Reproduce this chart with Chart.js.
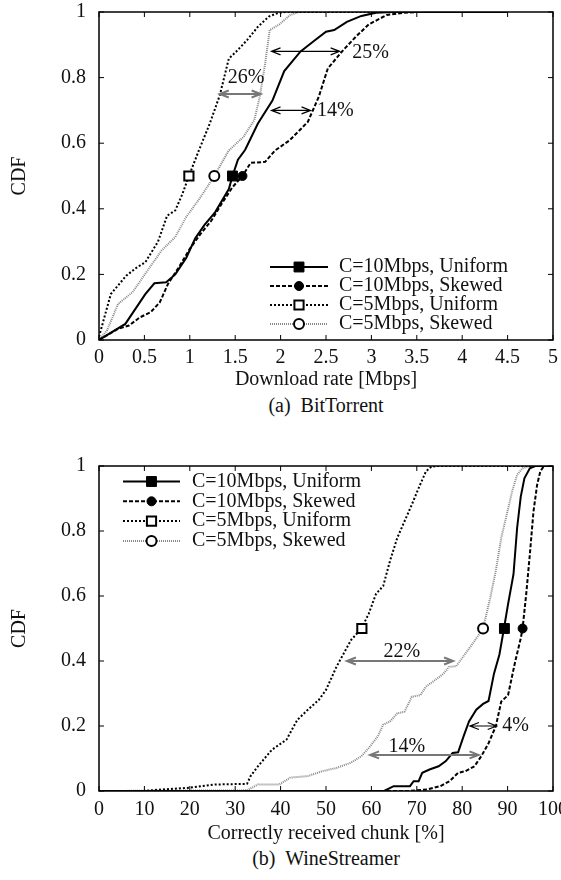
<!DOCTYPE html>
<html>
<head>
<meta charset="utf-8">
<script src="https://cdn.jsdelivr.net/npm/chart.js@4.4.0/dist/chart.umd.min.js"></script>
<style>
  body { margin: 0; background: #fff; width: 561px; height: 880px; position: relative; overflow: hidden; font-family: "Liberation Serif", serif; }
  .box { position: absolute; left: 0; width: 561px; }
  .caption { position: absolute; left: 99px; width: 454px; text-align: center; font-size: 20px; line-height: 24px; color: #111; }
</style>
</head>
<body>
<div class="box" style="top:0"><canvas id="btChart" width="561" height="392"></canvas></div>
<div class="caption" style="top:393px">(a)&nbsp; BitTorrent</div>
<div class="box" style="top:420px"><canvas id="wsChart" width="561" height="426"></canvas></div>
<div class="caption" style="top:846px">(b)&nbsp; WineStreamer</div>

<script>
// series names (same for both plots)
const seriesNames = ["C=10Mbps, Uniform", "C=10Mbps, Skewed", "C=5Mbps, Uniform", "C=5Mbps, Skewed"];

// (a) BitTorrent - download rate [Mbps] vs CDF
const btU10 = [[0,0],[0.29,0.049],[0.51,0.14],[0.61,0.173],[0.74,0.176],[0.84,0.2],[0.96,0.25],[1.06,0.31],[1.16,0.35],[1.28,0.39],[1.43,0.46],[1.47,0.5],[1.53,0.55],[1.61,0.58],[1.75,0.66],[1.91,0.73],[2.04,0.82],[2.22,0.88],[2.36,0.91],[2.5,0.94],[2.59,0.945],[2.73,0.97],[2.89,0.988],[3.05,0.998],[3.24,1],[4.5,1]];
const btS10 = [[0,0],[0.21,0.034],[0.33,0.044],[0.45,0.069],[0.57,0.085],[0.67,0.115],[0.76,0.171],[0.88,0.222],[1.0,0.278],[1.12,0.324],[1.24,0.365],[1.35,0.415],[1.47,0.466],[1.58,0.5],[1.67,0.54],[1.83,0.543],[1.94,0.578],[2.1,0.609],[2.3,0.665],[2.42,0.741],[2.52,0.828],[2.69,0.884],[2.83,0.925],[2.97,0.962],[3.17,0.991],[3.36,0.998],[3.52,1],[4.5,1]];
const btU5 = [[0,0.01],[0.13,0.14],[0.3,0.196],[0.41,0.22],[0.51,0.237],[0.65,0.30],[0.75,0.379],[0.84,0.395],[0.92,0.446],[0.99,0.5],[1.1,0.578],[1.22,0.66],[1.33,0.746],[1.43,0.858],[1.51,0.879],[1.63,0.914],[1.75,0.955],[1.87,0.986],[1.98,0.998],[2.06,1],[4.5,1]];
const btS5 = [[0,0],[0.09,0.03],[0.21,0.11],[0.37,0.146],[0.53,0.21],[0.69,0.273],[0.84,0.314],[0.96,0.375],[1.12,0.436],[1.27,0.5],[1.43,0.578],[1.59,0.619],[1.71,0.67],[1.77,0.741],[1.83,0.843],[1.88,0.945],[1.99,0.963],[2.1,0.99],[2.2,1],[4.5,1]];
const btMedians = [1.47, 1.58, 0.99, 1.27];
const btXTicks = ["0","0.5","1","1.5","2","2.5","3","3.5","4","4.5","5"];
const btArrows = [[1.33,1.78,0.75],[1.90,2.33,0.70],[1.90,2.65,0.88]];
const btArrowText = ["26%","14%","25%"];
const btTextAt = [[1.62,0.80],[2.40,0.70],[2.79,0.875]];

// (b) WineStreamer - correctly received chunk [%] vs CDF
const wsU10 = [[0,0],[62.8,0],[64.9,0.015],[68.5,0.015],[69.3,0.03],[70.4,0.03],[71.2,0.056],[72.8,0.066],[74.8,0.076],[76.4,0.092],[77.9,0.117],[79.1,0.119],[80.3,0.168],[81.5,0.214],[83.1,0.25],[84.6,0.268],[85.8,0.277],[87.0,0.361],[88.2,0.42],[89.2,0.5],[90.1,0.575],[91.3,0.667],[92.1,0.81],[92.9,0.906],[93.7,0.962],[94.9,0.993],[96.1,1],[100,1]];
const wsS10 = [[0,0],[68,0],[72.4,0.005],[75.2,0.015],[77.2,0.03],[79.1,0.056],[80.7,0.061],[82.7,0.076],[84.2,0.107],[85.8,0.147],[87.4,0.199],[88.6,0.275],[90.1,0.295],[91.7,0.4],[92.9,0.47],[93.3,0.5],[94.1,0.606],[94.9,0.728],[95.7,0.86],[96.5,0.942],[97.2,0.983],[98,1],[100,1]];
const wsU5 = [[0,0],[10,0],[12.1,0.003],[20,0.01],[25.5,0.02],[32.6,0.022],[33.4,0.046],[35,0.076],[38.1,0.127],[41.3,0.158],[43.7,0.219],[46,0.25],[48.4,0.28],[50,0.311],[52.3,0.382],[53.9,0.423],[55.5,0.464],[57.8,0.5],[59.4,0.545],[61,0.606],[62.6,0.631],[64.1,0.708],[65.7,0.779],[67.3,0.83],[68.9,0.881],[70.4,0.932],[72,0.983],[73.2,0.998],[74.4,1],[100,1]];
const wsS5 = [[0,0],[32.6,0.002],[35,0.02],[39.7,0.02],[42.1,0.041],[46,0.046],[49.2,0.061],[52.3,0.071],[55.5,0.087],[57.8,0.107],[59.4,0.132],[61.4,0.168],[62.6,0.204],[64.1,0.214],[65.7,0.239],[67.3,0.244],[68.9,0.29],[70.8,0.295],[72,0.321],[74,0.341],[75.9,0.361],[77.1,0.382],[78.7,0.384],[80.7,0.423],[82.3,0.453],[84.6,0.5],[86.2,0.596],[87.4,0.677],[88.6,0.779],[89.8,0.85],[91,0.922],[92.1,0.973],[93.3,0.993],[94.9,1],[100,1]];
const wsMedians = [89.3, 93.3, 57.9, 84.6];
const wsXTicks = ["0","10","20","30","40","50","60","70","80","90","100"];
const wsArrows = [[54.6,78.0,0.40],[59.7,83.6,0.111],[81.7,87.6,0.2]];
const wsArrowText = ["22%","14%","4%"];
const wsTextAt = [[66.7,0.43],[67.8,0.135],[88.8,0.2]];

const yTicks = ["0","0.2","0.4","0.6","0.8","1"];

// styles
const lineStyles = [
  { color: "#000", width: 2, dash: [] },
  { color: "#000", width: 2, dash: [4, 2] },
  { color: "#000", width: 2, dash: [2, 2] },
  { color: "#888", width: 2, dash: [1, 1] }
];
const markStyles = [
  { style: "rect", r: 7, fill: "#000", bw: 1 },
  { style: "circle", r: 4.5, fill: "#000", bw: 1 },
  { style: "rect", r: 6.5, fill: "#fff", bw: 2 },
  { style: "circle", r: 5, fill: "#fff", bw: 2 }
];

Chart.defaults.font.family = "'Liberation Serif', 'DejaVu Serif', serif";
Chart.defaults.font.size = 20;
Chart.defaults.color = "#111";
Chart.defaults.animation = false;

function drawArrow(ctx, x1, x2, y, color) {
  ctx.strokeStyle = color;
  ctx.lineWidth = color === "#000" ? 1.2 : 2;
  ctx.setLineDash([]);
  ctx.beginPath();
  ctx.moveTo(x1, y); ctx.lineTo(x2, y);
  ctx.moveTo(x1 + 9, y - 3.5); ctx.lineTo(x1, y); ctx.lineTo(x1 + 9, y + 3.5);
  ctx.moveTo(x2 - 9, y - 3.5); ctx.lineTo(x2, y); ctx.lineTo(x2 - 9, y + 3.5);
  ctx.stroke();
}

// gnuplot-like frame with inward ticks on all sides
const framePlugin = {
  id: "frame",
  afterDatasetsDraw(chart) {
    const { ctx, chartArea: a, scales: { x, y } } = chart;
    ctx.save();
    ctx.setLineDash([]);
    ctx.strokeStyle = "#000";
    ctx.lineWidth = 1;
    ctx.beginPath();
    x.ticks.forEach(t => {
      const px = x.getPixelForValue(t.value);
      ctx.moveTo(px, a.bottom); ctx.lineTo(px, a.bottom - 5);
      ctx.moveTo(px, a.top); ctx.lineTo(px, a.top + 5);
    });
    y.ticks.forEach(t => {
      const py = y.getPixelForValue(t.value);
      ctx.moveTo(a.left, py); ctx.lineTo(a.left + 5, py);
      ctx.moveTo(a.right, py); ctx.lineTo(a.right - 5, py);
    });
    ctx.stroke();
    ctx.lineWidth = 1.5;
    ctx.strokeRect(a.left, a.top, a.right - a.left, a.bottom - a.top);
    ctx.restore();
  },
  afterDraw(chart, args, opts) {
    const { ctx, scales: { x, y } } = chart;
    ctx.save();
    // arrows and their labels
    opts.arrows.forEach((ar, i) => {
      drawArrow(ctx, x.getPixelForValue(ar[0]), x.getPixelForValue(ar[1]), y.getPixelForValue(ar[2]), opts.arrowColors[i]);
    });
    ctx.font = "20px 'Liberation Serif', serif";
    ctx.fillStyle = "#111";
    ctx.textBaseline = "middle";
    opts.texts.forEach((t, i) => {
      ctx.textAlign = opts.textAlign[i];
      ctx.fillText(t, x.getPixelForValue(opts.textAt[i][0]), y.getPixelForValue(opts.textAt[i][1]));
    });
    // key
    const L = opts.legend;
    seriesNames.forEach((name, i) => {
      const ly = L.y + i * L.rowH;
      const ls = lineStyles[i], ms = markStyles[i];
      ctx.strokeStyle = ls.color;
      ctx.lineWidth = ls.width;
      ctx.setLineDash(ls.dash);
      ctx.beginPath();
      ctx.moveTo(L.x1, ly); ctx.lineTo(L.x2, ly);
      ctx.stroke();
      ctx.setLineDash([]);
      ctx.fillStyle = ms.fill;
      ctx.strokeStyle = "#000";
      ctx.lineWidth = ms.bw;
      Chart.helpers.drawPoint(ctx, { pointStyle: ms.style, radius: ms.r, borderWidth: ms.bw, rotation: 0 }, (L.x1 + L.x2) / 2, ly);
      ctx.fillStyle = "#111";
      ctx.textAlign = "left";
      ctx.fillText(name, L.tx, ly);
    });
    ctx.restore();
  }
};

function makeChart(id, curves, medians, xMax, xStep, xTicks, xTitle, padTop, xBoxH, tickPad, ann) {
  const datasets = curves.map((c, i) => ({
    data: c.map(p => ({ x: p[0], y: p[1] })),
    borderColor: lineStyles[i].color,
    borderWidth: lineStyles[i].width,
    borderDash: lineStyles[i].dash,
    pointRadius: 0,
    tension: 0,
    fill: false,
    order: 1
  }));
  datasets.push({
    data: medians.map(m => ({ x: m, y: 0.5 })),
    showLine: false,
    pointStyle: markStyles.map(m => m.style),
    pointRadius: markStyles.map(m => m.r),
    pointBorderWidth: markStyles.map(m => m.bw),
    pointBackgroundColor: markStyles.map(m => m.fill),
    pointBorderColor: "#000",
    order: 0
  });
  return new Chart(document.getElementById(id), {
    type: "line",
    data: { datasets },
    plugins: [framePlugin],
    options: {
      responsive: false,
      layout: { padding: { top: padTop, right: 8, left: 0, bottom: 0 } },
      plugins: {
        legend: { display: false },
        tooltip: { enabled: false },
        frame: ann
      },
      scales: {
        x: {
          type: "linear", min: 0, max: xMax,
          grid: { display: false, drawTicks: false },
          border: { display: false },
          ticks: { stepSize: xStep, autoSkip: false, maxRotation: 0, padding: tickPad, callback: (v, i) => xTicks[i] },
          title: { display: true, text: xTitle, padding: { top: 0, bottom: 0 } },
          afterFit: s => { s.height = xBoxH; s.paddingLeft = 0; s.paddingRight = 0; }
        },
        y: {
          min: 0, max: 1,
          grid: { display: false, drawTicks: false },
          border: { display: false },
          ticks: { stepSize: 0.2, padding: 13, callback: (v, i) => yTicks[i] },
          title: { display: true, text: "CDF", padding: { top: 8, bottom: 0 } },
          afterFit: s => { s.width = 99; s.paddingTop = 0; s.paddingBottom = 0; }
        }
      }
    }
  });
}

makeChart("btChart", [btU10, btS10, btU5, btS5], btMedians, 5, 0.5, btXTicks, "Download rate [Mbps]", 12, 52, 6, {
  arrows: btArrows, arrowColors: ["#777", "#000", "#000"],
  texts: btArrowText, textAt: btTextAt, textAlign: ["center", "left", "left"],
  legend: { x1: 270, x2: 328, tx: 339, y: 267, rowH: 19 }
});

makeChart("wsChart", [wsU10, wsS10, wsU5, wsS5], wsMedians, 100, 10, wsXTicks, "Correctly received chunk [%]", 46, 55, 7, {
  arrows: wsArrows, arrowColors: ["#777", "#777", "#000"],
  texts: wsArrowText, textAt: wsTextAt, textAlign: ["center", "center", "left"],
  legend: { x1: 123, x2: 180, tx: 192, y: 61.5, rowH: 19.8 }
});
</script>
</body>
</html>
